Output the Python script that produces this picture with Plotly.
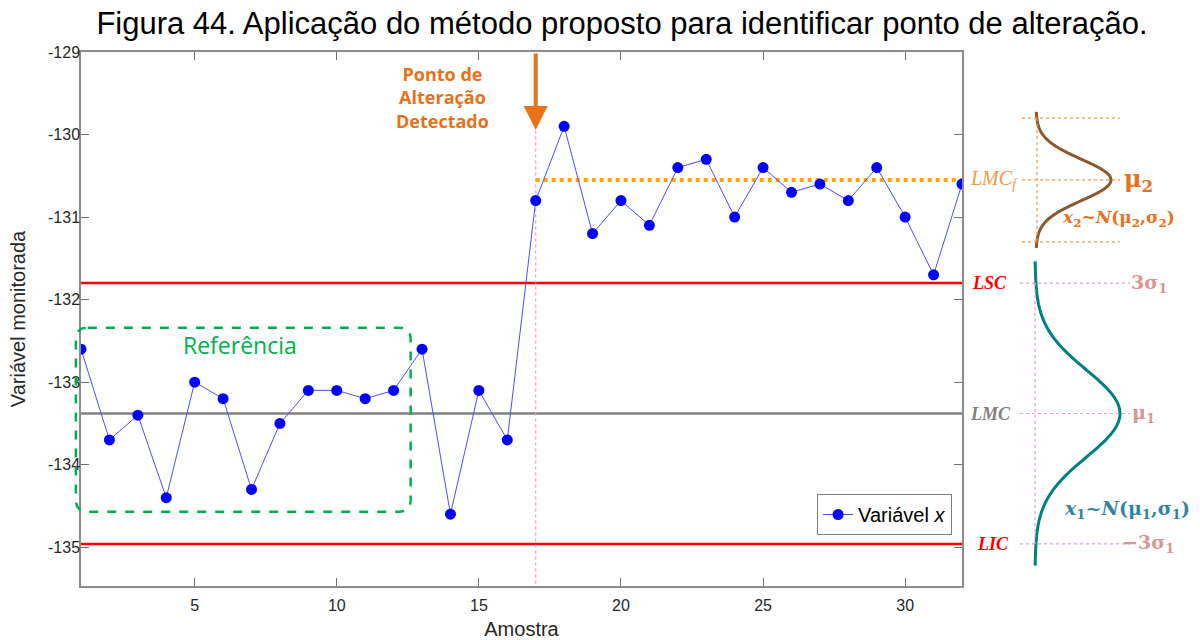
import numpy as np
import plotly.graph_objects as go

# Amostras e valores monitorados
amostra = list(range(1, 33))
variavel_x = [-132.6, -133.7, -133.4, -134.4, -133.0, -133.2, -134.3, -133.5,
              -133.1, -133.1, -133.2, -133.1, -132.6, -134.6, -133.1, -133.7,
              -130.8, -129.9, -131.2, -130.8, -131.1, -130.4, -130.3, -131.0,
              -130.4, -130.7, -130.6, -130.8, -130.4, -131.0, -131.7, -130.6]

# Limites de controle
lmc = -133.38
lsc = -131.80
lic = -134.96
lmc_f = -130.55
sigma_2 = 0.25
ponto_alteracao = 17

x_ticks = [5, 10, 15, 20, 25, 30]
y_ticks = [-135, -134, -133, -132, -131, -130, -129]
y_ticktext = ["-135", "-134", "-133", "-132", "-131", "-130", "-129"]
x_range = [1, 32]
y_range = [-135.47, -129]

# Janela de referência (amostras 1 a 12)
ref_x = (0.82, 12.6)
ref_y = (-134.57, -132.34)

# Geometria da figura
W, H = 1200, 640
M_L, M_R, M_T, M_B = 81, 238, 52, 54
PW = W - M_L - M_R
PH = H - M_T - M_B


def px(p):
    """Posição horizontal em pixels -> coordenada 'paper'."""
    return (p - M_L) / PW


def py(p):
    """Posição vertical em pixels -> valor no eixo y."""
    return y_range[1] - (p - M_T) / PH * (y_range[1] - y_range[0])


def xp(x):
    """Valor de amostra -> coordenada 'paper'."""
    return (x - x_range[0]) / (x_range[1] - x_range[0])


ORANGE = "#E8711A"
LIGHT_ORANGE = "#F79646"
GREEN = "#00B050"
ROSE = "#D99694"
PINK = "#DDA0DD"
TEAL = "#008080"
BROWN = "#8B5A2B"
SERIF = "Liberation Serif, DejaVu Serif, serif"
MATH = "DejaVu Serif, serif"
SANS = "Arial, Liberation Sans, sans-serif"
HUMAN = "Open Sans, Lato, sans-serif"

fig = go.Figure()

fig.add_trace(go.Scatter(
    x=amostra, y=variavel_x, mode="lines+markers",
    name="Variável <i>x</i>",
    line=dict(color="#4D4DFF", width=1),
    marker=dict(color="#0000FF", size=11),
))

shapes = []
# Linhas de controle
for val, col in ((lsc, "#FF0000"), (lic, "#FF0000"), (lmc, "#808080")):
    shapes.append(dict(type="line", xref="paper", yref="y", x0=0, x1=1,
                       y0=val, y1=val, line=dict(color=col, width=2.5),
                       layer="below"))
# Nova linha média após o ponto de alteração
shapes.append(dict(type="line", xref="x", yref="y", x0=ponto_alteracao,
                   x1=x_range[1], y0=lmc_f, y1=lmc_f,
                   line=dict(color="#FFA500", width=4, dash="dot"),
                   layer="below"))
# Marca vertical do ponto de alteração
shapes.append(dict(type="line", xref="x", yref="y", x0=ponto_alteracao,
                   x1=ponto_alteracao, y0=-129.95, y1=y_range[0],
                   line=dict(color=PINK, width=1.2, dash="dot"),
                   layer="below"))

# Caixa arredondada tracejada da janela de referência
rx = 12 / PW
ry = 12 / PH * (y_range[1] - y_range[0])
x0, x1 = xp(ref_x[0]), xp(ref_x[1])
y0, y1 = ref_y
path = (f"M {x0+rx},{y1} L {x1-rx},{y1} Q {x1},{y1} {x1},{y1-ry} "
        f"L {x1},{y0+ry} Q {x1},{y0} {x1-rx},{y0} L {x0+rx},{y0} "
        f"Q {x0},{y0} {x0},{y0+ry} L {x0},{y1-ry} Q {x0},{y1} {x0+rx},{y1} Z")
shapes.append(dict(type="path", xref="paper", yref="y", path=path,
                   line=dict(color=GREEN, width=2.5, dash="dash")))

# Curvas normais à direita do gráfico
sigma_1 = (lsc - lmc) / 3


def normal_path(mu, sigma, k, base_px, width_px):
    yy = np.linspace(mu - k * sigma, mu + k * sigma, 120)
    xx = px(base_px) + (width_px / PW) * np.exp(-0.5 * ((yy - mu) / sigma) ** 2)
    pts = [f"{a:.5f},{b:.5f}" for a, b in zip(xx, yy)]
    return "M " + " L ".join(pts)


shapes.append(dict(type="path", xref="paper", yref="y",
                   path=normal_path(lmc, sigma_1, 3.5, 1035, 85),
                   line=dict(color=TEAL, width=3)))
shapes.append(dict(type="path", xref="paper", yref="y",
                   path=normal_path(lmc_f, sigma_2, 3.3, 1036, 75),
                   line=dict(color=BROWN, width=3)))

# Linhas de referência das distribuições
for val in (lsc, lmc, lic):
    shapes.append(dict(type="line", xref="paper", yref="y",
                       x0=px(1020), x1=px(1130), y0=val, y1=val,
                       line=dict(color=PINK, width=1.2, dash="dot")))
shapes.append(dict(type="line", xref="paper", yref="y",
                   x0=px(1035), x1=px(1035), y0=lsc, y1=lic,
                   line=dict(color=PINK, width=1.2, dash="dot")))
for val in (lmc_f + 3 * sigma_2, lmc_f, lmc_f - 3 * sigma_2):
    shapes.append(dict(type="line", xref="paper", yref="y",
                       x0=px(1022), x1=px(1120), y0=val, y1=val,
                       line=dict(color=LIGHT_ORANGE, width=1.2, dash="dot")))
shapes.append(dict(type="line", xref="paper", yref="y",
                   x0=px(1037), x1=px(1037), y0=lmc_f + 3 * sigma_2,
                   y1=lmc_f - 3 * sigma_2,
                   line=dict(color=LIGHT_ORANGE, width=1.2, dash="dot")))

annotations = []


def label(text, xpix, y, color, size, family=SERIF, **kw):
    annotations.append(dict(text=text, xref="paper", yref="y", x=px(xpix),
                            y=y, showarrow=False, xanchor="center",
                            yanchor="middle",
                            font=dict(family=family, size=size, color=color),
                            **kw))


label("<b><i>LSC</i></b>", 989, lsc, "#FF0000", 18)
label("<b><i>LMC</i></b>", 990, lmc, "#808080", 18)
label("<b><i>LIC</i></b>", 993, lic, "#FF0000", 18)
label("<i>LMC<sub>f</sub></i>", 994, lmc_f, LIGHT_ORANGE, 20)
label("<b>3σ<sub>1</sub></b>", 1149, lsc, ROSE, 19, MATH)
label("<b>μ<sub>1</sub></b>", 1143, lmc, ROSE, 19, MATH)
label("<b>−3σ<sub>1</sub></b>", 1148, lic, ROSE, 19, MATH)
label("<b><i>x</i><sub>1</sub>~<i>N</i>(μ<sub>1</sub>,σ<sub>1</sub>)</b>",
      1127, py(509), "#31859C", 19, MATH)
label("<b>μ<sub>2</sub></b>", 1138, lmc_f, ORANGE, 24, MATH)
label("<b><i>x</i><sub>2</sub>~<i>N</i>(μ<sub>2</sub>,σ<sub>2</sub>)</b>",
      1118, py(218), ORANGE, 17, MATH)

# Rótulos dentro do gráfico
annotations.append(dict(text="Referência", xref="x", yref="y", x=6.6,
                        y=py(345), showarrow=False,
                        font=dict(family=HUMAN, size=23, color=GREEN)))
annotations.append(dict(text="<b>Ponto de<br>Alteração<br>Detectado</b>",
                        xref="paper", yref="y", x=px(442), y=py(97),
                        showarrow=False, xanchor="center", yanchor="middle",
                        align="center",
                        font=dict(family=HUMAN, size=18, color=ORANGE)))
annotations.append(dict(text="", xref="x", yref="y", x=ponto_alteracao,
                        y=py(130), ax=0, ay=-78, showarrow=True,
                        arrowhead=2, arrowsize=1.2, arrowwidth=4,
                        arrowcolor=ORANGE, standoff=0))

axis_common = dict(showline=True, linecolor="#8C8C8C", linewidth=1.5,
                   mirror="ticks", ticks="inside", ticklen=8,
                   tickcolor="#6E6E6E", showgrid=False, zeroline=False,
                   automargin=False,
                   tickfont=dict(family=SANS, size=16, color="#262626"))

fig.update_layout(
    width=W, height=H,
    margin=dict(l=M_L, r=M_R, t=M_T, b=M_B, autoexpand=False),
    paper_bgcolor="white", plot_bgcolor="white",
    title=dict(text="Figura 44. Aplicação do método proposto para identificar ponto de alteração.",
               x=622 / W, xref="container", xanchor="center",
               y=1 - 23 / H, yref="container", yanchor="middle",
               font=dict(family=SANS, size=31, color="black")),
    xaxis=dict(range=x_range, tickvals=x_ticks, ticklabelstandoff=4,
               title=dict(text="Amostra", standoff=12,
                          font=dict(family=SANS, size=20, color="#262626")),
               **axis_common),
    yaxis=dict(range=y_range, tickvals=y_ticks, ticktext=y_ticktext,
               ticklabelstandoff=-4,
               title=dict(text="Variável monitorada", standoff=17,
                          font=dict(family=SANS, size=20, color="#262626")),
               **axis_common),
    legend=dict(x=xp(31.65), xanchor="right", y=(586 - 535) / PH,
                yanchor="bottom", bgcolor="white", bordercolor="#7F7F7F",
                borderwidth=1, font=dict(family=SANS, size=20, color="black")),
    showlegend=True,
    shapes=shapes,
    annotations=annotations,
)

fig.write_html("out.html")
